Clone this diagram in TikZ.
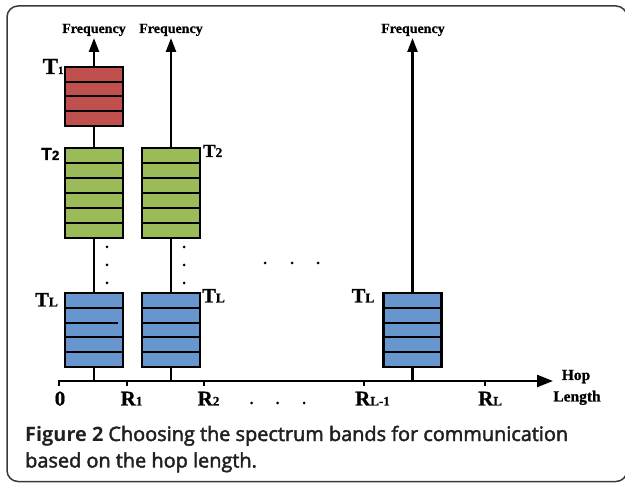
\documentclass[tikz,border=0pt]{standalone}
\usepackage{fontspec}
\setmainfont{Liberation Serif}[BoldFeatures={FakeBold=0.8}]
\newfontfamily\capfont{Open Sans}
\newfontfamily\capsemi[FakeBold=2.2]{Open Sans}
\newfontfamily\sansbold{Liberation Sans}[BoldFeatures={FakeBold=0.8}]
\usetikzlibrary{arrows.meta,calc}
\definecolor{bandred}{HTML}{C0504D}
\definecolor{bandgreen}{HTML}{9BBB59}
\definecolor{bandblue}{HTML}{6795CE}
\definecolor{framegray}{HTML}{3A3A3A}
\definecolor{captext}{HTML}{231F20}
% main letter size, main letter, index size, index
\newcommand\idxlabel[4]{{\fontsize{#1}{#1}\selectfont #2}{\fontsize{#3}{#3}\selectfont #4}}
\begin{document}
\begin{tikzpicture}[x=1pt,y=-1pt,
  axisline/.style={line width=2.4pt, draw=black},
  freqaxis/.style={axisline, -{Triangle[length=14pt,width=10pt]}},
  hopaxis/.style={axisline, -{Triangle[length=16pt,width=12pt]}},
  band/.style={rectangle, draw=black, line width=2.4pt, minimum width=58pt,
    inner sep=0pt, outer sep=0pt},
  stripe/.style={line width=2pt},
  tick/.style={line width=2pt},
  lab/.style={font=\bfseries, inner sep=0pt, anchor=base west},
  freqlab/.style={font=\bfseries\fontsize{14}{14}\selectfont, inner sep=0pt, anchor=base},
  dotmark/.style={circle, fill=black, inner sep=0pt, minimum size=3pt},
  caption/.style={inner sep=0pt, anchor=base west, text=captext, font=\fontsize{19.9}{19.9}\selectfont}
]
\useasboundingbox (0,0) rectangle (625,484);
% outer frame (its right side runs past the page edge)
\draw[framegray, line width=1.5pt, rounded corners=11pt] (7,6) rectangle (627,481.5);

% axes
\coordinate (o) at (59,381);
\coordinate (hopend) at (553,381);
\coordinate (a1) at (94,381);   \coordinate (a1top) at (94,38);
\coordinate (a2) at (171,381);  \coordinate (a2top) at (171,38);
\coordinate (a3) at (412.5,381);\coordinate (a3top) at (412.5,38);
\draw[freqaxis] (a1) -- (a1top);
\draw[freqaxis] (a2) -- (a2top);
\draw[freqaxis] (a3) -- (a3top);
\draw[hopaxis] (o) -- (hopend);

% ticks on the hop-length axis
\coordinate (r0) at (59,381);
\coordinate (r1) at (127,381);
\coordinate (r2) at (204,381);
\coordinate (rl1) at (364,381);
\coordinate (rl) at (485,381);
\foreach \t in {r0,r1,r2,rl1,rl}
  \draw[tick] ($(\t)+(0,-1)$) -- ($(\t)+(0,5)$);

% frequency bands
\node[band, fill=bandred,   minimum height=59pt] (b1) at (94,96.5) {};
\node[band, fill=bandgreen, minimum height=90pt] (g1) at (94,193) {};
\node[band, fill=bandgreen, minimum height=90pt] (g2) at (171,193) {};
\node[band, fill=bandblue,  minimum height=74pt] (u1) at (94,330) {};
\node[band, fill=bandblue,  minimum height=74pt] (u2) at (171,330) {};
\node[band, fill=bandblue,  minimum height=74pt] (u3) at (412.5,330) {};

\foreach \k in {1,2,3}
  \draw[stripe] ($(b1.north west)!\k/4!(b1.south west)$) -- ($(b1.north east)!\k/4!(b1.south east)$);
\foreach \b in {g1,g2}
  \foreach \k in {1,...,5}
    \draw[stripe] ($(\b.north west)!\k/6!(\b.south west)$) -- ($(\b.north east)!\k/6!(\b.south east)$);
\foreach \b in {u2,u3}
  \foreach \k in {1,...,4}
    \draw[stripe] ($(\b.north west)!\k/5!(\b.south west)$) -- ($(\b.north east)!\k/5!(\b.south east)$);
\foreach \k in {1,3,4}
  \draw[stripe] ($(u1.north west)!\k/5!(u1.south west)$) -- ($(u1.north east)!\k/5!(u1.south east)$);
\draw[stripe] ($(u1.north west)!2/5!(u1.south west)$) -- ($($(u1.north east)!2/5!(u1.south east)$)+(-5,0)$);

% vertical ellipsis beside the first two axes, and the horizontal one between them
\foreach \y [count=\i] in {247,265,283} {
  \node[dotmark] (va\i) at (107,\y) {};
  \node[dotmark] (vb\i) at (184,\y) {};
}
\foreach \x [count=\i] in {265,292,318}
  \node[dotmark] (hm\i) at (\x,263) {};

% frequency labels
\node[freqlab] (f1) at (94,33) {Frequency};
\node[freqlab] (f2) at (171,33) {Frequency};
\node[freqlab] (f3) at (413,33) {Frequency};

% band labels
\node[lab] (t1) at (42.5,74) {\idxlabel{23}{T}{11}{1}};
\node[lab, font=\sansbold\bfseries] (t2a) at (41,160) {\idxlabel{17.5}{T}{13.5}{2}};
\node[lab] (t2b) at (203,157) {\idxlabel{18.5}{T}{13.5}{2}};
\node[lab] (tla) at (35,306.5) {\idxlabel{20.5}{T}{13.5}{L}};
\node[lab] (tlb) at (202,302.5) {\idxlabel{20.5}{T}{13.5}{L}};
\node[lab] (tlc) at (351.5,302.5) {\idxlabel{20.5}{T}{13.5}{L}};

% hop-length labels
\node[lab, anchor=base] (l0) at (60,405.5) {\fontsize{21}{21}\selectfont 0};
\node[lab] (lr1) at (120.5,405.5) {\idxlabel{21}{R}{13}{1}};
\node[lab] (lr2) at (197.5,405.5) {\idxlabel{21}{R}{13}{2}};
\node[lab] (lrl1) at (355,405.5) {\idxlabel{21}{R}{13}{L-1}};
\node[lab] (lrl) at (478,405.5) {\idxlabel{21}{R}{13}{L}};
\foreach \x [count=\i] in {251.5,277.5,304}
  \node[dotmark] (hd\i) at (\x,403) {};
\node[lab, anchor=base, font=\bfseries\fontsize{15.5}{15.5}\selectfont] (hop) at (576,380) {Hop};
\node[lab, anchor=base, font=\bfseries\fontsize{15.5}{15.5}\selectfont] (len) at (577,401.5) {Length};

% caption
\node[caption] (cap1) at (25,441) {{\capfont\bfseries Figure 2} {\capsemi Choosing the spectrum bands for communication}};
\node[caption] (cap2) at (25,467.5) {\capsemi based on the hop length.};
\end{tikzpicture}
\end{document}
